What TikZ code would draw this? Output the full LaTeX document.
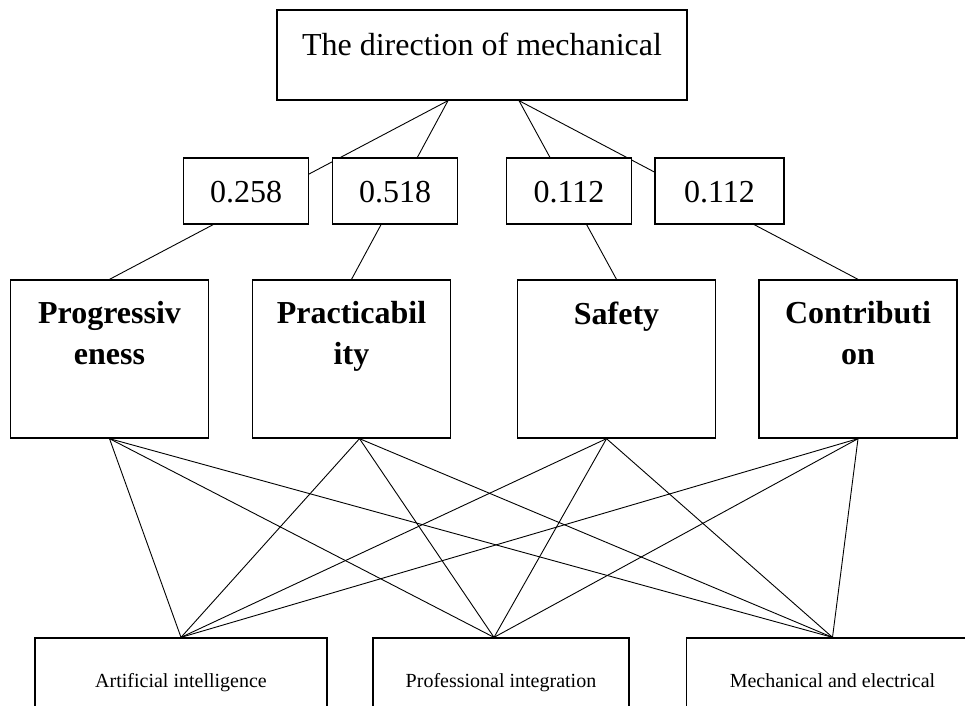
\documentclass[tikz,border=0pt]{standalone}
\usepackage{fontspec}
\setmainfont{Liberation Serif}
\usetikzlibrary{positioning}
\begin{document}
\begin{tikzpicture}[x=1pt,y=-1pt,
    goalbox/.style={draw,line width=1.3pt,minimum width=410pt,minimum height=90pt,inner sep=0pt,
      font=\fontsize{32}{37}\selectfont,text height=22pt,text depth=22pt},
    weightbox/.style={draw,fill=white,line width=1.3pt,minimum width=125pt,minimum height=66pt,inner sep=0pt,
      font=\fontsize{32}{37}\selectfont,text height=22pt,text depth=0pt},
    critbox/.style={draw,line width=1.3pt,minimum width=198pt,minimum height=158pt,inner sep=0pt},
    crittext/.style={align=center,inner sep=0pt,font=\fontsize{32}{41}\selectfont\bfseries},
    altbox/.style={draw,line width=1.3pt,minimum width=292pt,minimum height=89pt,inner sep=0pt,
      font=\fontsize{20}{24}\selectfont,text height=14pt,text depth=5pt},
    link/.style={line width=0.9pt}]
      \useasboundingbox (0,0) rectangle (965,705);
      \clip (0,0) rectangle (965,705);
      % goal
      \node[goalbox] (goal) at (482,55) {The direction of mechanical};
      % criteria
      \node[critbox] (prog) at (109.5,359) {};
      \node[critbox] (pract) at (351.5,359) {};
      \node[critbox] (safe) at (616.5,359) {};
      \node[critbox] (contr) at (858,359) {};
      \node[crittext,below=22pt of prog.north] (progtext) {Progressiv\\eness};
      \node[crittext,below=22pt of pract.north] (practtext) {Practicabil\\ity};
      \node[crittext,below=22pt of safe.north] (safetext) {Safety};
      \node[crittext,below=22pt of contr.north] (contrtext) {Contributi\\on};
      % alternatives
      \node[altbox] (ai) at (181,682.5) {Artificial intelligence};
      \node[altbox,minimum width=256pt] (pi) at (501,682.5) {Professional integration};
      \node[altbox] (me) at (832.5,682.5) {Mechanical and electrical};
      \begin{scope}[link]
        \draw ([xshift=-34pt]goal.south) to (prog.north);
        \draw ([xshift=-34pt]goal.south) to (pract.north);
        \draw ([xshift=37pt]goal.south) to (safe.north);
        \draw ([xshift=37pt]goal.south) to (contr.north);
        \draw (prog.south) to (ai.north);
        \draw (prog.south) to ([xshift=-7pt]pi.north);
        \draw (prog.south) to (me.north);
        \draw ([xshift=8pt]pract.south) to (ai.north);
        \draw ([xshift=8pt]pract.south) to ([xshift=-7pt]pi.north);
        \draw ([xshift=8pt]pract.south) to (me.north);
        \draw ([xshift=-10pt]safe.south) to (ai.north);
        \draw ([xshift=-10pt]safe.south) to ([xshift=-7pt]pi.north);
        \draw ([xshift=-10pt]safe.south) to (me.north);
        \draw (contr.south) to (ai.north);
        \draw (contr.south) to ([xshift=-7pt]pi.north);
        \draw (contr.south) to (me.north);
      \end{scope}
      % weights
      \node[weightbox] (w1) at (246,191) {0.258};
      \node[weightbox] (w2) at (395,191) {0.518};
      \node[weightbox] (w3) at (569,191) {0.112};
      \node[weightbox,minimum width=129pt] (w4) at (719.5,191) {0.112};
    \end{tikzpicture}
\end{document}
